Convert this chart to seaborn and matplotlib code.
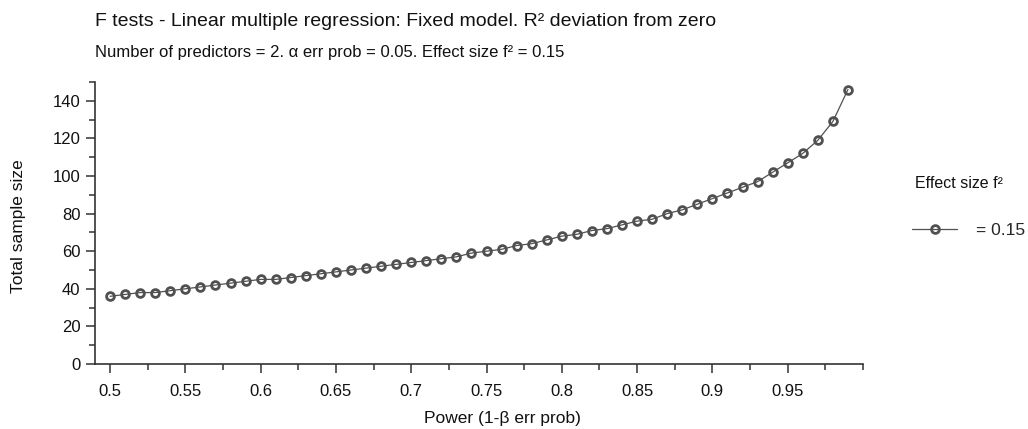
import numpy as np
import pandas as pd
import seaborn as sns
import matplotlib.pyplot as plt
from matplotlib.ticker import MultipleLocator

# valores (G*Power, f2 = 0.15, 2 preditores)
poder = [0.50, 0.51, 0.52, 0.53, 0.54, 0.55, 0.56, 0.57, 0.58, 0.59,
         0.60, 0.61, 0.62, 0.63, 0.64, 0.65, 0.66, 0.67, 0.68, 0.69,
         0.70, 0.71, 0.72, 0.73, 0.74, 0.75, 0.76, 0.77, 0.78, 0.79,
         0.80, 0.81, 0.82, 0.83, 0.84, 0.85, 0.86, 0.87, 0.88, 0.89,
         0.90, 0.91, 0.92, 0.93, 0.94, 0.95, 0.96, 0.97, 0.98, 0.99]
tamanho_amostra = [36, 37, 38, 38, 39, 40, 41, 42, 43, 44,
                   45, 45, 46, 47, 48, 49, 50, 51, 52, 53,
                   54, 55, 56, 57, 59, 60, 61, 63, 64, 66,
                   68, 69, 71, 72, 74, 76, 77, 80, 82, 85,
                   88, 91, 94, 97, 102, 107, 112, 119, 129, 146]
rotulo_serie = '= 0.15'

titulo = 'F tests - Linear multiple regression: Fixed model. R² deviation from zero'
subtitulo = 'Number of predictors = 2. α err prob = 0.05. Effect size f² = 0.15'
titulo_legenda = 'Effect size f²'

W, H = 1028, 429
cor_linha = '#505050'
cor_eixo = '#333333'
cor_texto = '#111111'

sns.set_theme(style='ticks')
plt.rcParams['font.family'] = ['Liberation Sans', 'DejaVu Sans']

df = pd.DataFrame({'poder': poder, 'n': tamanho_amostra})

fig = plt.figure(figsize=(W / 100, H / 100), dpi=100)
ax = fig.add_axes([95 / W, 1 - 364 / H, (863 - 95) / W, (364 - 82) / H])

sns.lineplot(data=df, x='poder', y='n', ax=ax, color=cor_linha, linewidth=0.9,
             marker='o', markersize=5.6, markerfacecolor='none',
             markeredgecolor=cor_linha, markeredgewidth=2.0, label=rotulo_serie)

ax.set_xlim(0.49, 1.0)
ax.set_ylim(0, 150)
ax.xaxis.set_minor_locator(MultipleLocator(0.025))
ax.yaxis.set_minor_locator(MultipleLocator(10))
ax.set_xticks(np.arange(0.5, 0.951, 0.05))
ax.set_xticklabels(['0.5', '0.55', '0.6', '0.65', '0.7', '0.75', '0.8', '0.85', '0.9', '0.95'])
ax.set_yticks(range(0, 141, 20))

for lado in ['top', 'right']:
    ax.spines[lado].set_visible(False)
for lado in ['left', 'bottom']:
    ax.spines[lado].set_color(cor_eixo)
    ax.spines[lado].set_linewidth(1.2)

ax.tick_params(axis='both', which='major', direction='out', length=6.5, width=1.1,
               color=cor_eixo, labelsize=12, labelcolor=cor_texto)
ax.tick_params(axis='both', which='minor', direction='out', length=4, width=1.1,
               color=cor_eixo)
ax.tick_params(axis='x', which='major', pad=8)
ax.tick_params(axis='y', which='major', pad=4)

ax.set_xlabel('Power (1-β err prob)', fontsize=12.5, color=cor_texto)
ax.set_ylabel('Total sample size', fontsize=12.5, color=cor_texto)
ax.xaxis.label.set_va('center')
ax.xaxis.set_label_coords(0.531, -0.195)
ax.yaxis.label.set_va('center')
ax.yaxis.label.set_ha('center')
ax.yaxis.set_label_coords(-0.099, 0.49)

fig.text(95 / W, 1 - 22 / H, titulo, fontsize=14, va='center', color=cor_texto)
fig.text(95 / W, 1 - 52 / H, subtitulo, fontsize=12, va='center', color=cor_texto)

fig.text(915 / W, 1 - 183 / H, titulo_legenda, fontsize=11.5, va='center', color=cor_texto)
ax.legend(loc='center left', bbox_to_anchor=(912 / W, 1 - 230 / H),
          bbox_transform=fig.transFigure, frameon=False, fontsize=12.5,
          borderpad=0, borderaxespad=0, handlelength=2.6, handletextpad=1.1)

fig.savefig('out.png', dpi=100)
